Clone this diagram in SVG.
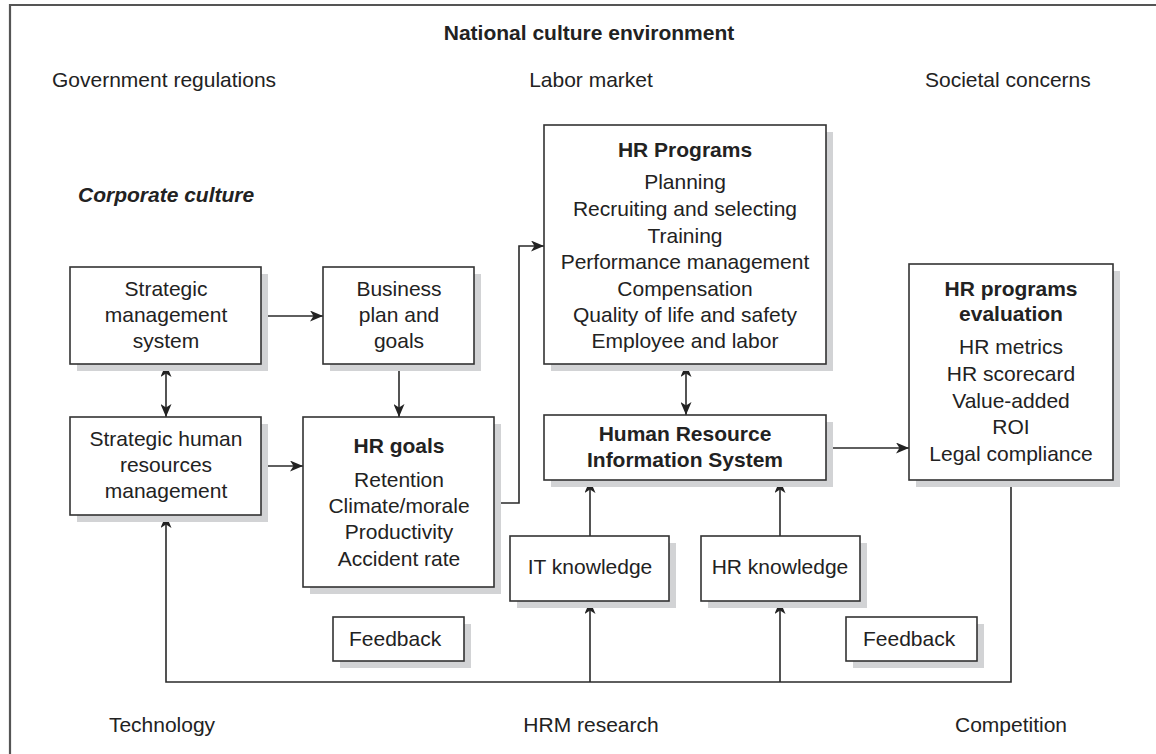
<svg xmlns="http://www.w3.org/2000/svg" width="1156" height="754" viewBox="0 0 1156 754">
<defs>
<style>
text{font-family:"Liberation Sans",Arial,Helvetica,sans-serif;font-size:21px;fill:#222;}
.c{text-anchor:middle;}
.b{font-weight:bold;}
.bi{font-weight:bold;font-style:italic;}
.box{fill:#fff;stroke:#333;stroke-width:1.6;}
.sh{fill:#d2d3d5;stroke:none;}
.ln{fill:none;stroke:#2a2a2a;stroke-width:1.6;}
.frame{fill:none;stroke:#555;stroke-width:2.2;}
</style>
<marker id="ah" viewBox="0 0 13 11" refX="13" refY="5.5" markerWidth="13" markerHeight="11" markerUnits="userSpaceOnUse" orient="auto-start-reverse">
<path d="M0,0 L13,5.5 L0,11 L3.5,5.5 z" fill="#222"/>
</marker>
</defs>
<rect width="1156" height="754" fill="#fff"/>
<path class="frame" d="M10,760 V5 H1160"/>

<g id="environment">
<text class="c b" x="589" y="40">National culture environment</text>
<text x="52" y="87">Government regulations</text>
<text class="c" x="591" y="87">Labor market</text>
<text x="925" y="87">Societal concerns</text>
<text class="bi" x="78" y="202">Corporate culture</text>
<text class="c" x="162" y="732">Technology</text>
<text class="c" x="591" y="732">HRM research</text>
<text class="c" x="1011" y="732">Competition</text>
</g>

<g id="connectors">
<line class="ln" x1="261" y1="316" x2="323" y2="316" marker-end="url(#ah)"/>
<line class="ln" x1="399" y1="364" x2="399" y2="417" marker-end="url(#ah)"/>
<line class="ln" x1="166" y1="364" x2="166" y2="417" marker-start="url(#ah)" marker-end="url(#ah)"/>
<line class="ln" x1="261" y1="466" x2="303" y2="466" marker-end="url(#ah)"/>
<polyline class="ln" points="494,503 519,503 519,246 544,246" marker-end="url(#ah)"/>
<line class="ln" x1="686" y1="364" x2="686" y2="415" marker-start="url(#ah)" marker-end="url(#ah)"/>
<line class="ln" x1="826" y1="448" x2="909" y2="448" marker-end="url(#ah)"/>
<line class="ln" x1="590" y1="536" x2="590" y2="480" marker-end="url(#ah)"/>
<line class="ln" x1="780" y1="536" x2="780" y2="480" marker-end="url(#ah)"/>
<polyline class="ln" points="1011,480 1011,682 166,682 166,515" marker-end="url(#ah)"/>
<line class="ln" x1="590" y1="682" x2="590" y2="601" marker-end="url(#ah)"/>
<line class="ln" x1="780" y1="682" x2="780" y2="601" marker-end="url(#ah)"/>
</g>

<g id="strategic-management-system">
<rect class="sh" x="77" y="274" width="191" height="97"/>
<rect class="box" x="70" y="267" width="191" height="97"/>
<text class="c" x="166" y="296">Strategic</text>
<text class="c" x="166" y="322">management</text>
<text class="c" x="166" y="348">system</text>
</g>

<g id="business-plan">
<rect class="sh" x="330" y="274" width="151" height="97"/>
<rect class="box" x="323" y="267" width="151" height="97"/>
<text class="c" x="399" y="296">Business</text>
<text class="c" x="399" y="322">plan and</text>
<text class="c" x="399" y="348">goals</text>
</g>

<g id="shrm">
<rect class="sh" x="77" y="424" width="191" height="98"/>
<rect class="box" x="70" y="417" width="191" height="98"/>
<text class="c" x="166" y="446">Strategic human</text>
<text class="c" x="166" y="472">resources</text>
<text class="c" x="166" y="498">management</text>
</g>

<g id="hr-goals">
<rect class="sh" x="310" y="424" width="191" height="170"/>
<rect class="box" x="303" y="417" width="191" height="170"/>
<text class="c b" x="399" y="453">HR goals</text>
<text class="c" x="399" y="487">Retention</text>
<text class="c" x="399" y="513">Climate/morale</text>
<text class="c" x="399" y="539">Productivity</text>
<text class="c" x="399" y="566">Accident rate</text>
</g>

<g id="hr-programs">
<rect class="sh" x="551" y="132" width="282" height="239"/>
<rect class="box" x="544" y="125" width="282" height="239"/>
<text class="c b" x="685" y="157">HR Programs</text>
<text class="c" x="685" y="189">Planning</text>
<text class="c" x="685" y="216">Recruiting and selecting</text>
<text class="c" x="685" y="243">Training</text>
<text class="c" x="685" y="269">Performance management</text>
<text class="c" x="685" y="296">Compensation</text>
<text class="c" x="685" y="322">Quality of life and safety</text>
<text class="c" x="685" y="348">Employee and labor</text>
</g>

<g id="hris">
<rect class="sh" x="551" y="422" width="282" height="65"/>
<rect class="box" x="544" y="415" width="282" height="65"/>
<text class="c b" x="685" y="441">Human Resource</text>
<text class="c b" x="685" y="467">Information System</text>
</g>

<g id="it-knowledge">
<rect class="sh" x="517" y="543" width="159" height="65"/>
<rect class="box" x="510" y="536" width="159" height="65"/>
<text class="c" x="590" y="574">IT knowledge</text>
</g>

<g id="hr-knowledge">
<rect class="sh" x="708" y="543" width="159" height="65"/>
<rect class="box" x="701" y="536" width="159" height="65"/>
<text class="c" x="780" y="574">HR knowledge</text>
</g>

<g id="hr-evaluation">
<rect class="sh" x="916" y="271" width="204" height="216"/>
<rect class="box" x="909" y="264" width="204" height="216"/>
<text class="c b" x="1011" y="296">HR programs</text>
<text class="c b" x="1011" y="321">evaluation</text>
<text class="c" x="1011" y="354">HR metrics</text>
<text class="c" x="1011" y="381">HR scorecard</text>
<text class="c" x="1011" y="408">Value-added</text>
<text class="c" x="1011" y="434">ROI</text>
<text class="c" x="1011" y="461">Legal compliance</text>
</g>

<g id="feedback-left">
<rect class="sh" x="340" y="624" width="131" height="44"/>
<rect class="box" x="333" y="617" width="131" height="44"/>
<text x="349" y="646">Feedback</text>
</g>

<g id="feedback-right">
<rect class="sh" x="853" y="624" width="131" height="44"/>
<rect class="box" x="846" y="617" width="131" height="44"/>
<text x="863" y="646">Feedback</text>
</g>
</svg>
